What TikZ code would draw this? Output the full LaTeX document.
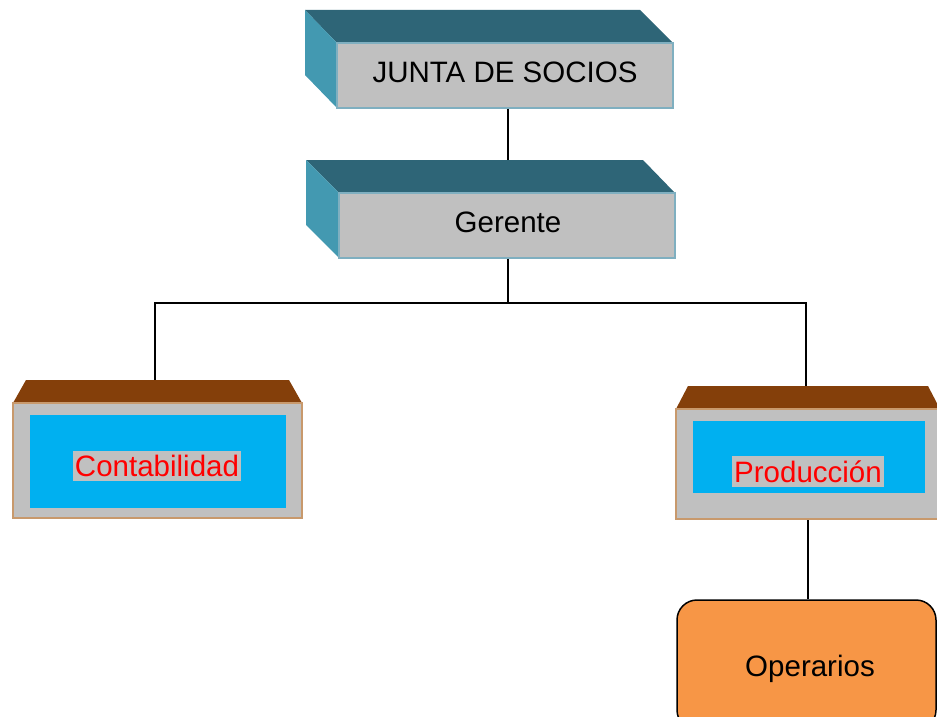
\documentclass[tikz,border=0pt]{standalone}
\usepackage{fontspec}
\setmainfont{Liberation Sans}
\definecolor{topteal}{HTML}{2E6577}
\definecolor{sideteal}{HTML}{4399B1}
\definecolor{facegray}{HTML}{C0C0C0}
\definecolor{faceedge}{HTML}{7FAFC0}
\definecolor{brownTop}{HTML}{843F0A}
\definecolor{tanEdge}{HTML}{C8996C}
\definecolor{boxblue}{HTML}{00B0F0}
\definecolor{operorange}{HTML}{F79646}
\tikzset{
  font=\fontsize{29.5}{33}\selectfont,
  front/.style={draw=faceedge, line width=1.5pt, fill=facegray, minimum width=336pt, minimum height=65pt, inner sep=0pt},
  deptbox/.style={draw=tanEdge, line width=2pt, fill=facegray, inner sep=0pt},
  blueinner/.style={fill=boxblue, inner sep=0pt},
  deptlabel/.style={fill=facegray, text=red, inner xsep=2pt, inner ysep=4pt},
  conn/.style={draw=black, line width=1.2pt},
}
\begin{document}
\begin{tikzpicture}[x=1pt,y=-1pt]
\useasboundingbox (0,0) rectangle (937,717);
\clip (0,0) rectangle (937,717);
% Junta
\fill[topteal] (305,10) -- (640,10) -- (673,43) -- (337,43) -- cycle;
\fill[sideteal] (305,10) -- (337,43) -- (337,108) -- (305,75) -- cycle;
\node[front] (junta) at (505,75.5) {};
\node (juntalabel) at (505,72.5) {JUNTA DE SOCIOS};
% Gerente
\fill[topteal] (306,160) -- (643,160) -- (675,193) -- (339,193) -- cycle;
\fill[sideteal] (306,160) -- (339,193) -- (339,258) -- (306,225) -- cycle;
\coordinate (gerentetop) at (508,160);
\node[front] (gerente) at (507,225.5) {};
\node (gerentelabel) at (508,222.5) {Gerente};
% Contabilidad
\fill[brownTop] (26,380) -- (289,380) -- (302,403) -- (13,403) -- cycle;
\coordinate (contatop) at (155,380);
\node[deptbox, minimum width=289pt, minimum height=115pt] (conta) at (157.5,460.5) {};
\node[blueinner, minimum width=256pt, minimum height=93pt] (contablue) at (158,461.5) {};
\node[deptlabel] (contalabel) at (157,466) {Contabilidad};
% Produccion
\fill[brownTop] (688,386) -- (928,386) -- (940,409) -- (676,409) -- cycle;
\coordinate (prodtop) at (806,386);
\node[deptbox, minimum width=264pt, minimum height=110pt] (prod) at (808,464) {};
\node[blueinner, minimum width=232pt, minimum height=72pt] (prodblue) at (809,457) {};
\node[deptlabel] (prodlabel) at (808,471.5) {Producción};
% Operarios
\node[draw=black, line width=1.5pt, fill=operorange, rounded corners=20pt, minimum width=259pt, minimum height=130pt] (oper) at (806.5,665) {};
\node (operlabel) at (810,669) {Operarios};
% connectors
\draw[conn] (junta.south -| gerentetop) -- (gerentetop);
\draw[conn] (gerente.south -| 508,0) -- (508,303) -| (contatop);
\draw[conn] (508,303) -| (prodtop);
\draw[conn] (prod.south -| 808,0) -- (oper.north -| 808,0);
\end{tikzpicture}
\end{document}
